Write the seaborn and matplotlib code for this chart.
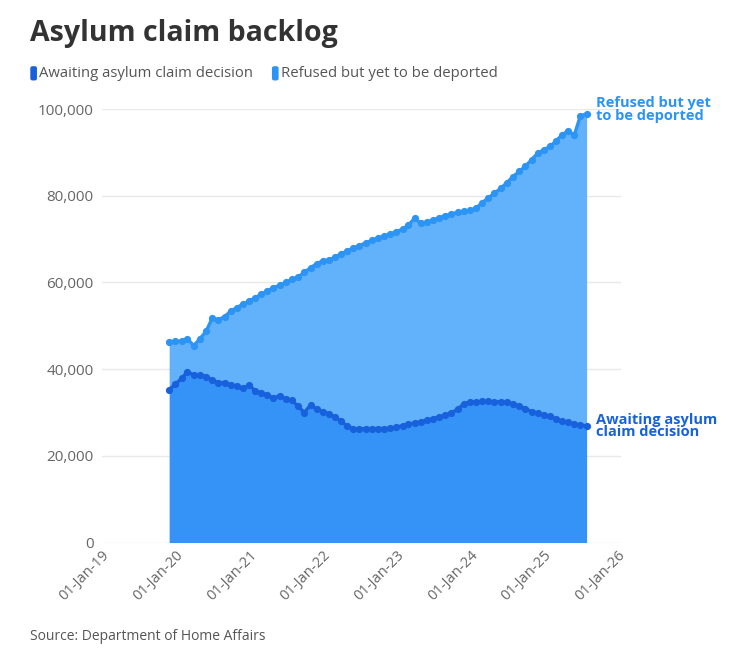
import pandas as pd
import matplotlib.pyplot as plt
import matplotlib.dates as mdates
import matplotlib.ticker as mticker
from matplotlib.patches import FancyBboxPatch
import seaborn as sns

# Monthly backlog figures (end of month), Nov 2019 - Jul 2025
start_month = '2019-11-30'
awaiting = [35300, 36500, 37900, 39400, 38600, 38700, 38300, 37400, 36900, 36900,
            36400, 36000, 35600, 36300, 35000, 34500, 34100, 33300, 33900, 33100,
            32800, 31400, 30000, 31700, 30800, 30200, 29700, 29000, 28000, 26900,
            26300, 26200, 26300, 26300, 26300, 26300, 26400, 26600, 27000, 27300,
            27600, 27800, 28300, 28600, 29000, 29400, 29900, 30800, 32000, 32400,
            32400, 32600, 32600, 32500, 32500, 32400, 32000, 31500, 30900, 30200,
            29900, 29500, 29100, 28500, 28000, 27700, 27400, 27100, 26900]
refused = [10900, 9900, 8600, 7600, 6800, 8300, 10400, 14300, 14500, 15200,
           17000, 18200, 19400, 19400, 21500, 22800, 23900, 25500, 25400, 26900,
           27900, 29900, 32300, 31700, 33500, 34800, 35500, 36800, 38600, 40300,
           41600, 42300, 42800, 43400, 43900, 44400, 44800, 45100, 45300, 45900,
           47200, 45900, 45600, 45800, 45900, 46000, 45900, 45400, 44400, 44200,
           44800, 45800, 46900, 48100, 49200, 50600, 52400, 54100, 55900, 58100,
           59900, 61100, 62300, 64100, 66000, 67300, 66600, 71300, 72000]
series_names = ['Awaiting asylum claim decision', 'Refused but yet to be deported']
end_labels = ['Awaiting asylum\nclaim decision', 'Refused but yet\nto be deported']

df = pd.DataFrame({
    'date': pd.date_range(start_month, periods=len(awaiting), freq='ME'),
    'awaiting': awaiting,
    'refused': refused,
})
df['total'] = df['awaiting'] + df['refused']

fill_dark, line_dark = '#3592f7', '#1761dd'
fill_light, line_light = '#62b1fb', '#2b94f4'

sns.set_theme(style='white')
plt.rcParams['font.family'] = ['Open Sans', 'DejaVu Sans']

fig = plt.figure(figsize=(7.39, 6.49), dpi=100)
ax = fig.add_axes([0.138, 0.164, 0.703, 0.668])

# stacked areas
ax.fill_between(df['date'], 0, df['awaiting'], color=fill_dark, lw=0, zorder=2)
ax.fill_between(df['date'], df['awaiting'], df['total'], color=fill_light, lw=0, zorder=2)

# lines with markers on top of each band
sns.lineplot(data=df, x='date', y='total', ax=ax, color=line_light, lw=2.4,
             marker='o', markersize=5.2, markeredgewidth=0, zorder=4, clip_on=False)
sns.lineplot(data=df, x='date', y='awaiting', ax=ax, color=line_dark, lw=2.4,
             marker='o', markersize=5.2, markeredgewidth=0, zorder=4, clip_on=False)

ax.set_xlim(pd.Timestamp('2019-01-01'), pd.Timestamp('2026-01-20'))
ax.set_ylim(0, 100000)
ax.yaxis.set_major_locator(mticker.MultipleLocator(20000))
ax.yaxis.set_major_formatter(mticker.FuncFormatter(lambda v, p: f'{int(v):,}'))
ax.xaxis.set_major_locator(mdates.YearLocator())
ax.xaxis.set_major_formatter(mdates.DateFormatter('%d-%b-%y'))

ax.grid(axis='y', color='#e8e8e8', lw=1, zorder=0)
ax.grid(axis='x', visible=False)
sns.despine(ax=ax, left=True, bottom=True)
ax.tick_params(axis='y', length=0, labelsize=11, labelcolor='#666666', pad=6)
ax.tick_params(axis='x', length=0, labelsize=10.5, labelcolor='#666666', pad=4)
plt.setp(ax.get_xticklabels(), rotation=45, ha='right', rotation_mode='anchor')
ax.set_xlabel('')
ax.set_ylabel('')

# end-of-line labels
last = df.iloc[-1]
ax.annotate(end_labels[1], xy=(last['date'], last['total']), xytext=(7, 3),
            textcoords='offset points', va='center', ha='left', fontsize=10.5,
            fontweight='bold', color=line_light, linespacing=0.85, annotation_clip=False)
ax.annotate(end_labels[0], xy=(last['date'], last['awaiting']), xytext=(7, 0),
            textcoords='offset points', va='center', ha='left', fontsize=10.5,
            fontweight='bold', color=line_dark, linespacing=0.85, annotation_clip=False)

# title, legend and source
fig.text(0.041, 0.948, 'Asylum claim backlog', fontsize=20.5, fontweight='bold',
         color='#333333', va='center')
leg_y = 0.887
for x0, name, col in [(0.041, series_names[0], line_dark), (0.368, series_names[1], line_light)]:
    fig.patches.append(FancyBboxPatch((x0, leg_y - 0.011), 0.009, 0.022,
                                      boxstyle='round,pad=0,rounding_size=0.003',
                                      transform=fig.transFigure, fc=col, ec='none'))
    fig.text(x0 + 0.012, leg_y, name, fontsize=10.7, color='#555555', va='center')
fig.text(0.041, 0.008, 'Source: Department of Home Affairs', fontsize=10,
         color='#555555', va='bottom')

fig.savefig('out.png', dpi=100, facecolor='white')
